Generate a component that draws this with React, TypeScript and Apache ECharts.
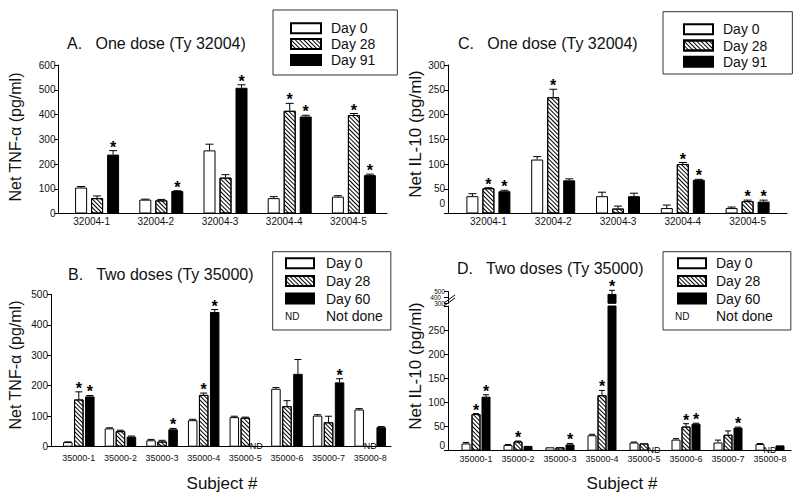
import React, { useEffect, useRef } from 'react';
import * as echarts from 'echarts';

const FONT = '"Liberation Sans", Arial, Helvetica, sans-serif';
const INK = '#111';

// ---------- Panel A: TNF-alpha, one dose (Ty 32004)
const subjectsA = ['32004-1', '32004-2', '32004-3', '32004-4', '32004-5'];
const tnfA_day0 = [105, 56, 255, 62, 68];
const tnfA_day0Err = [4, 2, 25, 6, 4];
const tnfA_day28 = [62, 53, 145, 415, 398];
const tnfA_day28Err = [9, 4, 12, 30, 6];
const tnfA_day91 = [238, 91, 508, 392, 155];
const tnfA_day91Err = [16, 1, 12, 5, 4];
const tnfA_star0 = [0, 0, 0, 0, 0];
const tnfA_star28 = [0, 0, 0, 1, 1];
const tnfA_star91 = [1, 1, 1, 1, 1];

// ---------- Panel C: IL-10, one dose (Ty 32004)
const il10C_day0 = [35, 109, 35, 11, 11];
const il10C_day0Err = [5, 6, 8, 6, 2];
const il10C_day28 = [51, 235, 10, 100, 25];
const il10C_day28Err = [1, 16, 5, 3, 2];
const il10C_day91 = [45, 67, 35, 68, 24];
const il10C_day91Err = [2, 3, 6, 1, 3];
const il10C_star0 = [0, 0, 0, 0, 0];
const il10C_star28 = [1, 1, 0, 1, 1];
const il10C_star91 = [1, 0, 0, 1, 1];

// ---------- Panel B: TNF-alpha, two doses (Ty 35000)  (null = not done)
const subjectsB = ['35000-1', '35000-2', '35000-3', '35000-4', '35000-5', '35000-6', '35000-7', '35000-8'];
const tnfB_day0 = [15, 60, 21, 87, 97, 190, 102, 122];
const tnfB_day0Err = [1, 2, 3, 3, 3, 4, 3, 3];
const tnfB_day28 = [155, 51, 17, 170, 95, 133, 80, null];
const tnfB_day28Err = [25, 3, 4, 6, 2, 18, 20, 0];
const tnfB_day60 = [165, 33, 57, 442, null, 239, 211, 64];
const tnfB_day60Err = [3, 2, 3, 8, 0, 47, 12, 2];
const tnfB_star0 = [0, 0, 0, 0, 0, 0, 0, 0];
const tnfB_star28 = [1, 0, 0, 1, 0, 0, 0, 0];
const tnfB_star60 = [1, 0, 1, 1, 0, 0, 1, 0];

// ---------- Panel D: IL-10, two doses (Ty 35000)  (broken axis above 300)
const il10D_day0 = [15, 12, 7, 32, 17, 23, 17, 14];
const il10D_day0Err = [2, 1, 0, 2, 1, 2, 5, 1];
const il10D_day28 = [76, 19, 7, 115, 15, 50, 33, null];
const il10D_day28Err = [1, 1, 0, 10, 0, 6, 8, 0];
const il10D_day60 = [112, 10, 13, 460, null, 56, 48, 11];
const il10D_day60Err = [4, 0, 2, 60, 0, 1, 1, 0];
const il10D_star0 = [0, 0, 0, 0, 0, 0, 0, 0];
const il10D_star28 = [1, 1, 0, 1, 0, 1, 0, 0];
const il10D_star60 = [1, 0, 1, 1, 0, 1, 1, 0];
const breakAt = 300;
const upperTicks = [300, 400, 500];

const HATCH = {
  symbol: 'rect',
  symbolSize: 1,
  color: '#000',
  backgroundColor: '#fff',
  dashArrayX: [1, 0],
  dashArrayY: [1, 2],
  rotation: Math.PI / 4,
};

const grids: any[] = [];
const xAxes: any[] = [];
const yAxes: any[] = [];
const series: any[] = [];

const axisLineStyle = { color: '#000', width: 1 };

function addGridPair(o: {
  left: number; top: number; width: number; height: number; auxLeft: number; auxWidth: number;
  cats: string[]; min: number; max: number; interval: number; labelSize: number; xLabelSize: number;
  xMargin: number; xPad?: number[]; zeroRaise?: number; hideMax?: boolean; showX?: boolean; showXLine?: boolean;
  hideValues?: number[];
}) {
  const main = grids.length;
  grids.push({ left: o.left, top: o.top, width: o.width, height: o.height, containLabel: false });
  xAxes.push({
    gridIndex: main, type: 'category', data: o.cats,
    axisLine: { show: false }, axisTick: { show: false },
    axisLabel: {
      show: o.showX !== false, fontSize: o.xLabelSize, color: INK, fontFamily: FONT, margin: o.xMargin,
      interval: 0, padding: o.xPad || [0, 0, 0, 0],
    },
    splitLine: { show: false },
  });
  yAxes.push({ gridIndex: main, type: 'value', min: o.min, max: o.max, interval: o.interval, show: false });
  const aux = grids.length;
  grids.push({ left: o.auxLeft, top: o.top, width: o.auxWidth, height: o.height, containLabel: false });
  xAxes.push({
    gridIndex: aux, type: 'value', min: 0, max: 1,
    axisLine: { show: o.showXLine !== false, onZero: false, lineStyle: axisLineStyle },
    axisTick: { show: false }, axisLabel: { show: false }, splitLine: { show: false },
  });
  const raise = o.zeroRaise || 0;
  const hide = o.hideValues || [];
  yAxes.push({
    gridIndex: aux, type: 'value', position: 'left', min: o.min, max: o.max, interval: o.interval,
    axisLine: { show: true, onZero: false, lineStyle: axisLineStyle },
    axisTick: { show: true, inside: false, length: 4, lineStyle: axisLineStyle },
    axisLabel: {
      fontSize: o.labelSize, color: INK, fontFamily: FONT, margin: 3,
      showMinLabel: true, showMaxLabel: true, hideOverlap: false,
      formatter: (v: number) => {
        if (o.hideMax && v === o.max) return '';
        if (hide.indexOf(v) >= 0) return '';
        if (v === 0 && raise) return '{z|0}';
        return String(v);
      },
      rich: { z: { fontSize: o.labelSize, color: INK, fontFamily: FONT, padding: [0, 0, raise * 2, 0] } },
    },
    splitLine: { show: false },
  });
  return main;
}

function barSeries(name: string, vals: (number | null)[], axis: number, kind: number, bw: number, gap: number) {
  const itemStyle: any = kind === 2
    ? { color: '#000', borderColor: '#000', borderWidth: 1 }
    : { color: '#fff', borderColor: '#000', borderWidth: 1 };
  if (kind === 1) itemStyle.decal = HATCH;
  return {
    type: 'bar', name, xAxisIndex: axis, yAxisIndex: axis,
    data: vals.map((v) => (v == null ? '-' : v)),
    barWidth: bw, barGap: `${(gap / bw) * 100}%`,
    itemStyle, silent: true, clip: true, emphasis: { disabled: true },
  };
}

function errSeries(vals: (number | null)[], errs: number[], stars: number[], axis: number, k: number,
  bw: number, gap: number, cap: number, keep: (v: number) => boolean, showND: boolean) {
  const data: number[][] = [];
  vals.forEach((v, i) => {
    if (v == null) { if (showND) data.push([i, 0, 0, 0, 1]); }
    else if (keep(v)) data.push([i, v, errs[i], stars[i], 0]);
  });
  return {
    type: 'custom', xAxisIndex: axis, yAxisIndex: axis, data, silent: true, z: 5,
    renderItem: (_p: any, api: any) => {
      const i = api.value(0), v = api.value(1), e = api.value(2), s = api.value(3), nd = api.value(4);
      const b = api.coord([i, v]);
      const x = b[0] + (k - 1) * (bw + gap);
      if (nd) {
        return {
          type: 'text', x, y: b[1] - 1,
          style: { text: 'ND', fontSize: 9, fontFamily: FONT, fill: '#000', textAlign: 'center', textVerticalAlign: 'middle' },
        };
      }
      const top = api.coord([i, v + e])[1];
      const children: any[] = [];
      if (e > 0) {
        children.push({ type: 'line', shape: { x1: x, y1: b[1], x2: x, y2: top }, style: { stroke: '#000', lineWidth: 1 } });
        children.push({ type: 'line', shape: { x1: x - cap, y1: top, x2: x + cap, y2: top }, style: { stroke: '#000', lineWidth: 1 } });
      }
      if (s) {
        children.push({
          type: 'text', x, y: top - 3.5,
          style: {
            text: '*', fontSize: 16, fontWeight: 'bold', fontFamily: FONT, fill: '#000',
            textAlign: 'center', textVerticalAlign: 'middle',
          },
        });
      }
      return { type: 'group', children };
    },
  };
}

function addBarsAndErrors(axis: number, names: string[], vals: (number | null)[][], errs: number[][], stars: number[][],
  bw: number, gap: number, cap: number, keep: (v: number) => boolean = () => true, showND = true) {
  for (let k = 0; k < 3; k++) series.push(barSeries(names[k], vals[k], axis, k, bw, gap));
  for (let k = 0; k < 3; k++) series.push(errSeries(vals[k], errs[k], stars[k], axis, k, bw, gap, cap, keep, showND));
}

// Panel A
const axA = addGridPair({ left: 65, top: 65, width: 321, height: 148.5, auxLeft: 58.5, auxWidth: 328.5,
  cats: subjectsA, min: 0, max: 600, interval: 100, labelSize: 10, xLabelSize: 10, xMargin: 3, xPad: [0, 11, 0, 0] });
addBarsAndErrors(axA, ['Day 0', 'Day 28', 'Day 91'], [tnfA_day0, tnfA_day28, tnfA_day91],
  [tnfA_day0Err, tnfA_day28Err, tnfA_day91Err], [tnfA_star0, tnfA_star28, tnfA_star91], 12, 4, 4);

// Panel C
const axC = addGridPair({ left: 456, top: 65, width: 324, height: 148.5, auxLeft: 448, auxWidth: 339,
  cats: subjectsA, min: 0, max: 300, interval: 50, labelSize: 10, xLabelSize: 10, xMargin: 3, zeroRaise: 10 });
addBarsAndErrors(axC, ['Day 0', 'Day 28', 'Day 91'], [il10C_day0, il10C_day28, il10C_day91],
  [il10C_day0Err, il10C_day28Err, il10C_day91Err], [il10C_star0, il10C_star28, il10C_star91], 12, 4, 4);

// Panel B
const axB = addGridPair({ left: 58, top: 294.3, width: 333, height: 152.4, auxLeft: 51, auxWidth: 340,
  cats: subjectsB, min: 0, max: 500, interval: 100, labelSize: 10, xLabelSize: 9, xMargin: 7 });
addBarsAndErrors(axB, ['Day 0', 'Day 28', 'Day 60'], [tnfB_day0, tnfB_day28, tnfB_day60],
  [tnfB_day0Err, tnfB_day28Err, tnfB_day60Err], [tnfB_star0, tnfB_star28, tnfB_star60], 9.5, 1.5, 3.5);

// Panel D, lower part (0-300)
const axD = addGridPair({ left: 455, top: 306, width: 336, height: 144.7, auxLeft: 448, auxWidth: 343,
  cats: subjectsB, min: 0, max: breakAt, interval: 50, labelSize: 10, xLabelSize: 9, xMargin: 4, zeroRaise: 5.5, hideMax: true });
addBarsAndErrors(axD, ['Day 0', 'Day 28', 'Day 60'], [il10D_day0, il10D_day28, il10D_day60],
  [il10D_day0Err, il10D_day28Err, il10D_day60Err], [il10D_star0, il10D_star28, il10D_star60], 9, 1, 3,
  (v) => v <= breakAt, true);
// Panel D, upper part (300-500)
const axDu = addGridPair({ left: 455, top: 291.5, width: 336, height: 11.8, auxLeft: 448, auxWidth: 343,
  cats: subjectsB, min: upperTicks[0], max: upperTicks[2], interval: 100, labelSize: 6.5,
  xLabelSize: 9, xMargin: 4, showX: false, showXLine: false, hideValues: [upperTicks[1]] });
// the middle label of the compressed part sits on its own (left) axis so it is not dropped for overlapping
yAxes.push({
  gridIndex: axDu + 1, type: 'value', position: 'left', offset: 0,
  min: upperTicks[0], max: upperTicks[2], interval: 100,
  axisLine: { show: false }, axisTick: { show: false }, splitLine: { show: false },
  axisLabel: {
    fontSize: 6.5, color: INK, fontFamily: FONT, margin: 7,
    formatter: (v: number) => (v === upperTicks[1] ? String(v) : ''),
  },
});
const upper = (a: (number | null)[]) => a.map((v) => (v != null && v > breakAt ? v : null));
addBarsAndErrors(axDu, ['Day 0', 'Day 28', 'Day 60'], [upper(il10D_day0), upper(il10D_day28), upper(il10D_day60)],
  [il10D_day0Err, il10D_day28Err, il10D_day60Err], [il10D_star0, il10D_star28, il10D_star60], 9, 1, 3,
  (v) => v > breakAt, false);

// dummy series only for the "Not done" legend entry
series.push({
  type: 'line', name: 'Not done', data: [], xAxisIndex: axB, yAxisIndex: axB,
  itemStyle: { color: 'rgba(0,0,0,0)' }, lineStyle: { color: 'rgba(0,0,0,0)' }, silent: true,
});

const legendBase = {
  orient: 'vertical', itemWidth: 30, itemHeight: 10, icon: 'rect', selectedMode: false,
  borderColor: '#333', borderWidth: 1, backgroundColor: '#fff', z: 2,
  textStyle: { fontSize: 14, color: INK, fontFamily: FONT, lineHeight: 14, padding: [0, 0, 0, 5] },
};
const ndItem = { name: 'Not done', icon: 'rect', itemStyle: { color: 'rgba(0,0,0,0)', borderWidth: 0 } };
const legends = [
  { ...legendBase, left: 273, top: 10, itemGap: 1.8, padding: [11.3, 22, 8.1, 17], data: ['Day 0', 'Day 28', 'Day 91'] },
  { ...legendBase, left: 663, top: 11.7, itemWidth: 29, itemGap: 2.2, padding: [10.6, 25, 5.3, 20], data: ['Day 0', 'Day 28', 'Day 91'] },
  { ...legendBase, left: 272.7, top: 251.7, itemWidth: 28, itemGap: 3.6, padding: [4.6, 8, 6.9, 12.3],
    textStyle: { ...legendBase.textStyle, padding: [0, 0, 0, 7] }, data: ['Day 0', 'Day 28', 'Day 60', ndItem] },
  { ...legendBase, left: 663, top: 251.7, itemWidth: 28, itemGap: 3.6, padding: [4.6, 18, 6.9, 14],
    textStyle: { ...legendBase.textStyle, padding: [0, 0, 0, 5] }, data: ['Day 0', 'Day 28', 'Day 60', ndItem] },
];

const txt = (text: string, x: number, y: number, size: number, extra: any = {}) => ({
  type: 'text', x, y, silent: true, z: 100,
  style: { text, fontSize: size, fontFamily: FONT, fill: INK, textVerticalAlign: 'middle', ...extra },
});
const vtxt = (text: string, x: number, y: number, size: number) => ({
  type: 'text', x, y, rotation: Math.PI / 2, silent: true, z: 100,
  style: { text, fontSize: size, fontFamily: FONT, fill: INK, textAlign: 'center', textVerticalAlign: 'middle' },
});

const graphics: any[] = [
  txt('A.   One dose (Ty 32004)', 67, 43, 16),
  txt('C.   One dose (Ty 32004)', 458, 43, 16),
  txt('B.   Two doses (Ty 35000)', 68, 274, 16),
  txt('D.   Two doses (Ty 35000)', 457, 268.5, 16),
  vtxt('Net TNF-\u03b1 (pg/ml)', 15, 137, 16),
  vtxt('Net IL-10 (pg/ml)', 415, 134, 17),
  vtxt('Net TNF-\u03b1 (pg/ml)', 15, 365, 16),
  vtxt('Net IL-10 (pg/ml)', 415, 366, 17),
  txt('Subject #', 222, 483, 17, { textAlign: 'center' }),
  txt('Subject #', 622, 483, 17, { textAlign: 'center' }),
  txt('ND', 285, 316.5, 10),
  txt('ND', 675, 316.5, 10),
  { type: 'line', silent: true, z: 100, shape: { x1: 444, y1: 303, x2: 455, y2: 295 }, style: { stroke: '#000', lineWidth: 1 } },
  { type: 'line', silent: true, z: 100, shape: { x1: 444, y1: 306, x2: 455, y2: 298 }, style: { stroke: '#000', lineWidth: 1 } },
];

export default function App() {
  const ref = useRef<HTMLDivElement>(null);
  useEffect(() => {
    if (!ref.current) return;
    const chart = echarts.init(ref.current, undefined, { renderer: 'svg' });
    chart.setOption({
      animation: false,
      backgroundColor: '#fff',
      textStyle: { fontFamily: FONT },
      grid: grids,
      xAxis: xAxes,
      yAxis: yAxes,
      legend: legends,
      series,
      graphic: graphics,
    });
    return () => chart.dispose();
  }, []);
  return (
    <div
      ref={ref}
      style={{ position: 'absolute', left: 0, top: 0, width: 800, height: 497, background: '#fff' }}
    />
  );
}
